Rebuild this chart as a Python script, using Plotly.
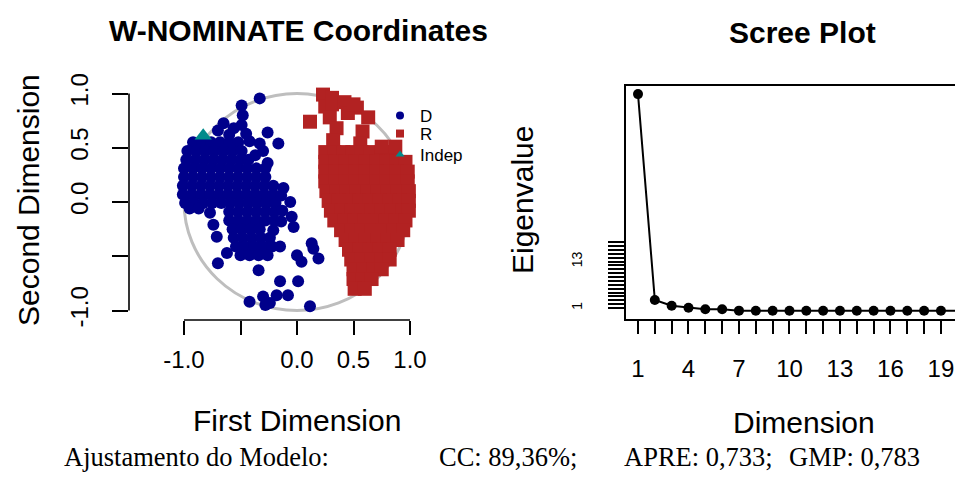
import plotly.graph_objects as go

# ---------------- data ----------------
d_x = [-0.33, -0.49, -0.48, -0.49, -0.65, -0.56, -0.70, -0.26, -0.42, -0.33, -0.165, -0.37, -0.26, -0.45, -0.60,
       -0.92, -0.84, -0.76, -0.68, -0.60, -0.52,
       -0.97, -0.89, -0.81, -0.73, -0.65, -0.57, -0.49, -0.30,
       -0.98, -0.90, -0.82, -0.74, -0.66, -0.58, -0.50, -0.43,
       -1.00, -0.92, -0.84, -0.76, -0.68, -0.60, -0.52, -0.44, -0.36, -0.28,
       -1.00, -0.92, -0.84, -0.76, -0.68, -0.60, -0.52, -0.44, -0.36, -0.28,
       -1.01, -0.93, -0.85, -0.77, -0.69, -0.61, -0.53, -0.45, -0.37, -0.29, -0.21, -0.12,
       -1.01, -0.93, -0.85, -0.77, -0.69, -0.61, -0.53, -0.45, -0.37, -0.29, -0.21, -0.14,
       -0.99, -0.91, -0.83, -0.75, -0.67, -0.59, -0.51, -0.43, -0.35, -0.27, -0.19, -0.06,
       -0.95, -0.87,
       -0.60, -0.52, -0.44, -0.36, -0.28, -0.20, -0.13,
       -0.77, -0.74, -0.71, -0.047, -0.03,
       -0.60, -0.52, -0.44, -0.36, -0.28, -0.20, -0.14,
       -0.57, -0.49, -0.41, -0.33, -0.21,
       -0.56, -0.48, -0.40, -0.32, -0.24,
       -0.54, -0.46, -0.38, -0.30, -0.22, -0.15,
       -0.50, -0.42, -0.34, -0.26,
       -0.62, -0.70, -0.34, -0.15, 0.01, 0.13, 0.145, 0.19, 0.0, 0.04,
       -0.42, -0.30, -0.28, -0.18, -0.08, -0.24, 0.115]
d_y = [0.955, 0.89, 0.80, 0.71, 0.725, 0.68, 0.66, 0.64, 0.56, 0.54, 0.54, 0.43, 0.36, 0.63, 0.62,
       0.55, 0.55, 0.55, 0.55, 0.55, 0.55,
       0.47, 0.47, 0.47, 0.47, 0.47, 0.47, 0.47, 0.47,
       0.39, 0.39, 0.39, 0.39, 0.39, 0.39, 0.39, 0.39,
       0.31, 0.31, 0.31, 0.31, 0.31, 0.31, 0.31, 0.31, 0.31, 0.31,
       0.23, 0.23, 0.23, 0.23, 0.23, 0.23, 0.23, 0.23, 0.23, 0.23,
       0.15, 0.15, 0.15, 0.15, 0.15, 0.15, 0.15, 0.15, 0.15, 0.15, 0.15, 0.13,
       0.07, 0.07, 0.07, 0.07, 0.07, 0.07, 0.07, 0.07, 0.07, 0.07, 0.07, 0.06,
       -0.01, -0.01, -0.01, -0.01, -0.01, -0.01, -0.01, -0.01, -0.01, -0.01, -0.01, 0.0,
       -0.06, -0.06,
       -0.09, -0.09, -0.09, -0.09, -0.09, -0.09, -0.08,
       -0.10, -0.21, -0.32, -0.135, -0.23,
       -0.17, -0.17, -0.17, -0.17, -0.17, -0.17, -0.18,
       -0.25, -0.25, -0.25, -0.25, -0.26,
       -0.33, -0.33, -0.33, -0.33, -0.33,
       -0.41, -0.41, -0.41, -0.41, -0.41, -0.41,
       -0.49, -0.49, -0.49, -0.49,
       -0.47, -0.565, -0.63, -0.73, -0.73, -0.38, -0.43, -0.52, -0.49, -0.55,
       -0.92, -0.87, -0.95, -0.86, -0.86, -0.93, -0.96]

r_x = [0.23, 0.31, 0.25, 0.31, 0.42, 0.53, 0.45, 0.63, 0.115, 0.29, 0.35, 0.58, 0.32, 0.56, 0.50,
       0.25, 0.33, 0.41, 0.49, 0.57, 0.65, 0.75, 0.84, 0.75, 0.87,
       0.25, 0.34, 0.43, 0.52, 0.61, 0.70, 0.79, 0.88, 0.96,
       0.25, 0.34, 0.43, 0.52, 0.61, 0.70, 0.79, 0.88, 0.98,
       0.25, 0.34, 0.43, 0.52, 0.61, 0.70, 0.79, 0.88, 0.98,
       0.26, 0.35, 0.44, 0.53, 0.62, 0.71, 0.80, 0.89, 0.99,
       0.28, 0.37, 0.46, 0.55, 0.64, 0.73, 0.82, 0.91, 0.99,
       0.30, 0.39, 0.48, 0.57, 0.66, 0.75, 0.84, 0.93, 0.99,
       0.33, 0.42, 0.51, 0.60, 0.69, 0.78, 0.87, 0.96,
       0.39, 0.48, 0.57, 0.66, 0.76, 0.85, 0.94,
       0.43, 0.52, 0.61, 0.71, 0.80, 0.89,
       0.46, 0.55, 0.64, 0.73, 0.82,
       0.48, 0.57, 0.66, 0.75, 0.82,
       0.50, 0.59, 0.68, 0.75,
       0.50, 0.58, 0.66,
       0.51, 0.60]
r_y = [0.99, 0.96, 0.88, 0.90, 0.92, 0.87, 0.82, 0.78, 0.74, 0.78, 0.68, 0.65, 0.57, 0.54, 0.90,
       0.46, 0.46, 0.46, 0.46, 0.46, 0.46, 0.46, 0.46, 0.51, 0.51,
       0.37, 0.37, 0.37, 0.37, 0.37, 0.37, 0.37, 0.37, 0.37,
       0.28, 0.28, 0.28, 0.28, 0.28, 0.28, 0.28, 0.28, 0.28,
       0.19, 0.19, 0.19, 0.19, 0.19, 0.19, 0.19, 0.19, 0.19,
       0.10, 0.10, 0.10, 0.10, 0.10, 0.10, 0.10, 0.10, 0.10,
       0.01, 0.01, 0.01, 0.01, 0.01, 0.01, 0.01, 0.01, 0.01,
       -0.08, -0.08, -0.08, -0.08, -0.08, -0.08, -0.08, -0.08, -0.08,
       -0.17, -0.17, -0.17, -0.17, -0.17, -0.17, -0.17, -0.17,
       -0.26, -0.26, -0.26, -0.26, -0.26, -0.26, -0.26,
       -0.35, -0.35, -0.35, -0.35, -0.35, -0.35,
       -0.44, -0.44, -0.44, -0.44, -0.44,
       -0.53, -0.53, -0.53, -0.53, -0.53,
       -0.62, -0.62, -0.62, -0.62,
       -0.71, -0.71, -0.71,
       -0.80, -0.80]

indep_x = [-0.83]
indep_y = [0.61]

coord_ticks = [-1.0, -0.5, 0.0, 0.5, 1.0]
coord_ticktext = ["-1.0", "", "0.0", "0.5", "1.0"]

dims = list(range(1, 21))
eigenvalues = [56.2, 3.06, 1.6, 1.08, 0.66, 0.66, 0.32, 0.31, 0.31, 0.30, 0.30, 0.30,
               0.29, 0.29, 0.29, 0.28, 0.28, 0.28, 0.27, 0.27]
dim_ticktext = [str(d) if d in (1, 4, 7, 10, 13, 16, 19) else "" for d in dims]
eig_ticks = list(range(1, 19))
eig_ticktext = [str(v) if v in (1, 13) else "" for v in eig_ticks]

fit_label = "Ajustamento do Modelo:"
fit_cc = "CC: 89,36%;"
fit_apre = "APRE: 0,733;"
fit_gmp = "GMP: 0,783"

# ---------------- figure ----------------
# the page adds an 8px body margin, so the figure is drawn 16px smaller
OFF = 8
W, H = 963 - 2 * OFF, 481 - 2 * OFF
BLUE = "#00008B"
RED = "#B22222"
TEAL = "#008B8B"
SANS = "Liberation Sans, Arial, sans-serif"
SERIF = "Liberation Serif, Times New Roman, serif"

def px(v):
    return (v - OFF) / W

def py(v):
    return (H - (v - OFF)) / H

fig = go.Figure()

fig.add_trace(go.Scatter(x=d_x, y=d_y, mode="markers", showlegend=False,
                         marker=dict(symbol="circle", size=12, color=BLUE, line=dict(width=0)),
                         xaxis="x", yaxis="y"))
fig.add_trace(go.Scatter(x=r_x, y=r_y, mode="markers", showlegend=False,
                         marker=dict(symbol="square", size=14, color=RED, line=dict(width=0)),
                         xaxis="x", yaxis="y"))
fig.add_trace(go.Scatter(x=indep_x, y=indep_y, mode="markers", showlegend=False,
                         marker=dict(symbol="triangle-up", size=15, color=TEAL, line=dict(width=0)),
                         xaxis="x", yaxis="y"))
for name, sym, col, lg in [("D", "circle", BLUE, "legend"), ("R", "square", RED, "legend2"),
                           ("Indep", "triangle-up", TEAL, "legend3")]:
    fig.add_trace(go.Scatter(x=[None], y=[None], mode="markers", name=name, legend=lg,
                             marker=dict(symbol=sym, size=8, color=col, line=dict(width=0)),
                             xaxis="x", yaxis="y"))

fig.add_trace(go.Scatter(x=dims, y=eigenvalues, mode="lines+markers", showlegend=False,
                         line=dict(color="black", width=2),
                         marker=dict(symbol="circle", size=10, color="black"),
                         xaxis="x2", yaxis="y2", cliponaxis=False))

left_x0, left_x1 = 129, 465
x_per, x_zero = 113.0, 297.0
top_l, bot_l = 84, 320
y_per, y_zero = 108.5, 202.0

sc_left, sc_right, sc_top, sc_bot = 626, 963 - OFF, 86, 319.3
sc_xper, sc_x1px = 16.83, 638.0
sc_yper, sc_y1px = 3.875, 308.0

axis_common = dict(showgrid=False, zeroline=False, ticks="outside", tickcolor="black",
                   tickwidth=1.6, automargin=False)
tf = dict(family=SANS, size=24, color="black")

def legend_box(y_top):
    return dict(x=px(380), y=py(y_top), xanchor="left", yanchor="top",
                bgcolor="rgba(0,0,0,0)", borderwidth=0,
                font=dict(family=SANS, size=17, color="black"), itemwidth=30)

fig.update_layout(
    width=W, height=H, margin=dict(l=0, r=0, t=0, b=0, autoexpand=False),
    paper_bgcolor="white", plot_bgcolor="white",
    xaxis=dict(domain=[px(left_x0), px(left_x1)],
               range=[(left_x0 - x_zero) / x_per, (left_x1 - x_zero) / x_per],
               tickvals=coord_ticks, ticktext=coord_ticktext, ticklen=14, tickfont=tf,
               showline=False, ticklabelstandoff=4, anchor="y", **axis_common),
    yaxis=dict(domain=[py(bot_l), py(top_l)],
               range=[(y_zero - bot_l) / y_per, (y_zero - top_l) / y_per],
               tickvals=coord_ticks, ticktext=coord_ticktext, ticklen=16, tickangle=-90,
               tickfont=tf, showline=False, ticklabelstandoff=14, anchor="x", **axis_common),
    xaxis2=dict(domain=[px(sc_left), 1.0],
                range=[1 - (sc_x1px - sc_left) / sc_xper, 1 + (sc_right - sc_x1px) / sc_xper],
                tickvals=dims, ticktext=dim_ticktext, ticklen=13, tickfont=tf,
                showline=True, linecolor="black", linewidth=2, mirror=True,
                ticklabelstandoff=14, ticklabeloverflow="allow", anchor="y2", **axis_common),
    yaxis2=dict(domain=[py(sc_bot), py(sc_top)],
                range=[1 - (sc_bot - sc_y1px) / sc_yper, 1 + (sc_y1px - sc_top) / sc_yper],
                tickvals=eig_ticks, ticktext=eig_ticktext, ticklen=16, tickangle=-90,
                tickfont=dict(family=SANS, size=14, color="black"),
                showline=True, linecolor="black", linewidth=2, mirror=False,
                ticklabelstandoff=20, anchor="x2", **axis_common),
    legend=legend_box(98),
    legend2=legend_box(116),
    legend3=legend_box(137),
    showlegend=True,
)

fig.add_shape(type="circle", xref="x", yref="y", x0=-1, y0=-1, x1=1, y1=1,
              line=dict(color="#BEBEBE", width=3), layer="below")
fig.add_shape(type="line", xref="x", yref="y domain", x0=-1, x1=1, y0=0, y1=0,
              line=dict(color="black", width=1.6))
fig.add_shape(type="line", xref="x domain", yref="y", x0=0, x1=0, y0=-1, y1=1,
              line=dict(color="black", width=1.6))

def ann(text, x, y, size, bold=False, angle=0, family=SANS, xanchor="center"):
    fig.add_annotation(text=f"<b>{text}</b>" if bold else text, x=x, y=y,
                       xref="paper", yref="paper", showarrow=False, textangle=angle,
                       xanchor=xanchor, yanchor="middle",
                       font=dict(family=family, size=size, color="black"))

ann("W-NOMINATE Coordinates", px(298), py(30), 30, bold=True)
ann("Scree Plot", px(802), py(33), 30, bold=True)
ann("First Dimension", px(297), py(420), 30)
ann("Second Dimension", px(28), py(200), 30, angle=-90)
ann("Eigenvalue", px(522), py(200), 30, angle=-90)
ann("Dimension", px(804), py(422), 30)
ann(fit_label, px(62), py(457), 26.5, family=SERIF, xanchor="left")
ann(fit_cc, px(437), py(457), 26.5, family=SERIF, xanchor="left")
ann(fit_apre, px(622), py(457), 26.5, family=SERIF, xanchor="left")
ann(fit_gmp, px(787), py(457), 26.5, family=SERIF, xanchor="left")

fig.write_html("out.html")
